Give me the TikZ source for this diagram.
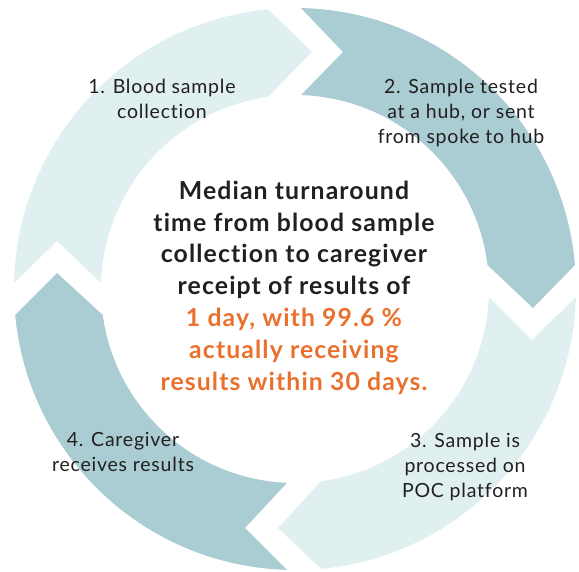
\documentclass[tikz,border=0pt]{standalone}
\usepackage{fontspec}
\setmainfont{Lato}
\newfontfamily\steptextfont[LetterSpace=4,Ligatures=NoCommon]{Lato}
\newfontfamily\summarytextfont[LetterSpace=4.5,Ligatures=NoCommon]{Lato}
\usetikzlibrary{calc}
\definecolor{ringlight}{HTML}{E0EFEF}
\definecolor{ringdark}{HTML}{AACDD4}
\definecolor{accent}{HTML}{E9712D}
\definecolor{ink}{HTML}{231F20}
\newcommand\ringouter{281pt}
\newcommand\ringinner{194pt}
\begin{document}
\begin{tikzpicture}[x=1pt,y=1pt,
  steplabel/.style={align=center, text=ink, inner sep=0pt, anchor=base,
    font=\steptextfont\fontsize{19.5}{24.8}\selectfont},
  summary/.style={align=center, text=ink, inner sep=0pt, anchor=base,
    font=\summarytextfont\bfseries\fontsize{24.8}{31.8}\selectfont}]
\useasboundingbox (0,0) rectangle (579,-571);
\coordinate (C) at (295,-289);

% step 1: left to top
\fill[ringlight] ($(C)+(178.78:\ringouter)$)
  arc[start angle=178.78, end angle=95.51, radius=\ringouter]
  -- (312,-52) -- ($(C)+(98.0:\ringinner)$)
  arc[start angle=98.0, end angle=178.23, radius=\ringinner]
  -- (57,-241) -- cycle;
% step 2: top to right
\fill[ringdark] ($(C)+(88.78:\ringouter)$)
  arc[start angle=88.78, end angle=4.90, radius=\ringouter]
  -- (533,-308) -- ($(C)+(7.11:\ringinner)$)
  arc[start angle=7.11, end angle=88.23, radius=\ringinner]
  -- (343,-52) -- cycle;
% step 3: right to bottom
\fill[ringlight] ($(C)+(-1.63:\ringouter)$)
  arc[start angle=-1.63, end angle=-84.69, radius=\ringouter]
  -- (278,-528) -- ($(C)+(-82.30:\ringinner)$)
  arc[start angle=-82.30, end angle=-2.36, radius=\ringinner]
  -- (532,-340) -- cycle;
% step 4: bottom to left
\fill[ringdark] ($(C)+(-91.63:\ringouter)$)
  arc[start angle=-91.63, end angle=-174.69, radius=\ringouter]
  -- (57,-273) -- ($(C)+(-172.30:\ringinner)$)
  arc[start angle=-172.30, end angle=-92.36, radius=\ringinner]
  -- (245,-528) -- cycle;

% step labels (placed by the baseline of their last line)
\node[steplabel] (s1) at (162,-118) {1. Blood sample\\collection};
\node[steplabel] (s2) at (461,-143) {2. Sample tested\\at a hub, or sent\\from spoke to hub};
\node[steplabel] (s3) at (465,-497) {3. Sample is\\processed on\\POC platform};
\node[steplabel] (s4) at (123,-471) {4. Caregiver\\receives results};

% summary in the middle
\node[summary] (mid) at (294,-390) {Median turnaround\\time from blood sample\\collection to caregiver\\receipt of results of\\
  \textcolor{accent}{1 day, with 99.6 \%}\\
  \textcolor{accent}{actually receiving}\\
  \textcolor{accent}{results within 30 days.}};
\end{tikzpicture}
\end{document}
